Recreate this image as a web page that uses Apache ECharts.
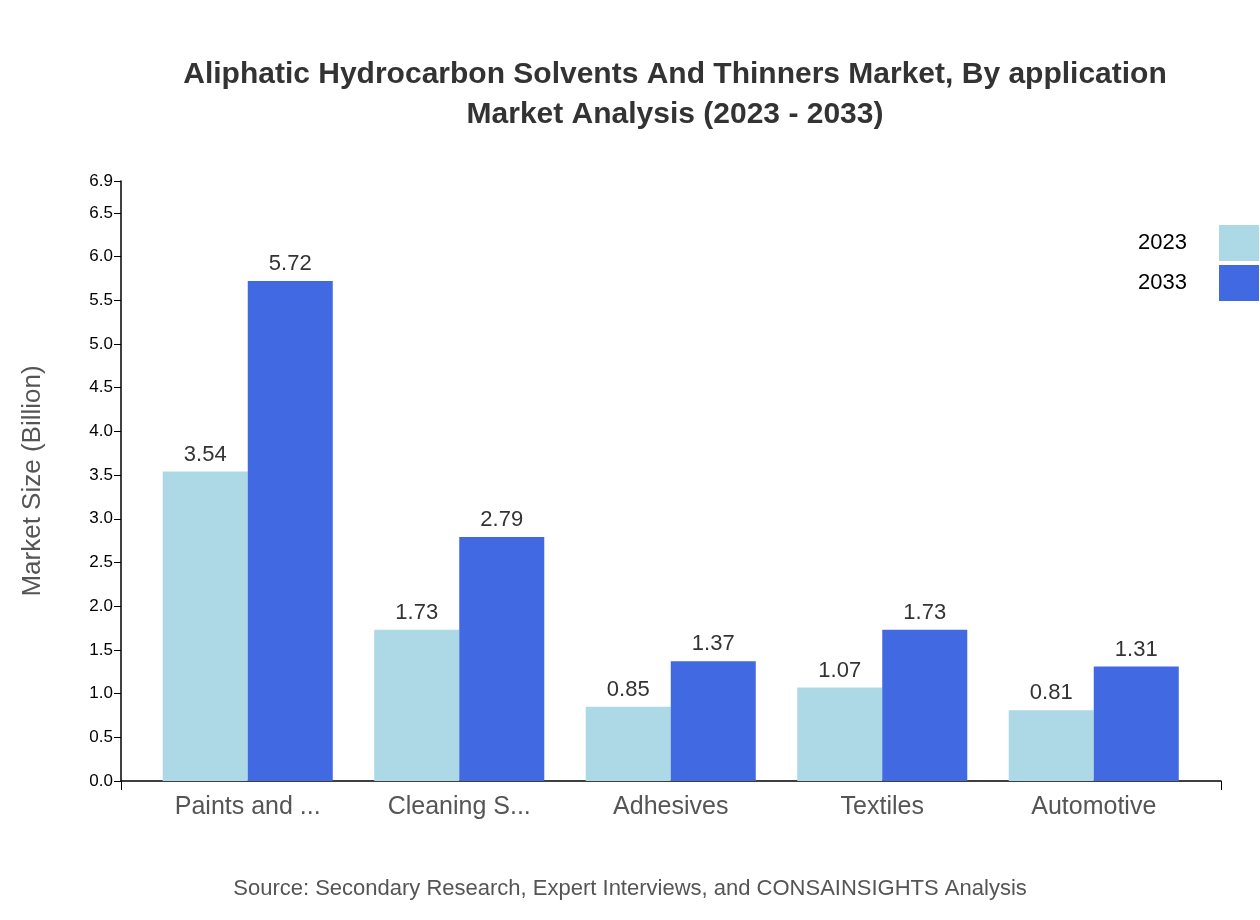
<!DOCTYPE html>
<html><head><meta charset="utf-8">
<script src="https://cdn.jsdelivr.net/npm/echarts@6/dist/echarts.min.js"></script>
<style>body{margin:0}#c{width:1260px;height:920px}</style></head>
<body><div id="c"></div>
<script>
const categories = ['Paints and ...','Cleaning S...','Adhesives','Textiles','Automotive'];
const values2023 = [3.54,1.73,0.85,1.07,0.81];
const values2033 = [5.72,2.79,1.37,1.73,1.31];
const yMax = 6.864;
const ch = echarts.init(document.getElementById('c'));
const lbl = {show:true,position:'top',fontSize:22,color:'#333',fontFamily:'Liberation Sans',distance:6};
ch.setOption({
  animation:false,
  title:{text:'Aliphatic Hydrocarbon Solvents And Thinners Market, By application\nMarket Analysis (2023 - 2033)',
    left:670,top:50,textAlign:'center',textStyle:{fontSize:30,fontWeight:'bold',color:'#333',lineHeight:40,fontFamily:'Liberation Sans'}},
  graphic:[{type:'text',left:'center',top:878,style:{text:'Source: Secondary Research, Expert Interviews, and CONSAINSIGHTS Analysis',fontSize:22,fill:'#555',fontFamily:'Liberation Sans'},x:-40}],
  legend:{data:['2023','2033'],orient:'vertical',align:'right',right:-4,top:220,itemWidth:40,itemHeight:36,itemGap:4,icon:'rect',
    textStyle:{fontSize:22,color:'#000',fontFamily:'Liberation Sans',padding:[0,27,0,0]}},
  grid:[{left:142,right:60.5,top:181,bottom:139},{left:121,right:39,top:181,bottom:139}],
  xAxis:[
    {type:'category',gridIndex:0,data:categories,axisLine:{show:false},axisTick:{show:false},
     axisLabel:{fontSize:25,color:'#555',margin:14,fontFamily:'Liberation Sans'}},
    {type:'value',gridIndex:1,min:0,max:1,interval:1,axisLine:{show:true,lineStyle:{color:'#000',width:1.5}},
     axisTick:{show:true,length:9,lineStyle:{color:'#000'}},axisLabel:{show:false},splitLine:{show:false}}
  ],
  yAxis:[
    {type:'value',gridIndex:0,min:0,max:yMax,show:false,splitLine:{show:false}},
    {type:'value',gridIndex:1,min:0,max:yMax,interval:0.5,
     name:'Market Size (Billion)',nameLocation:'middle',nameGap:75,nameTextStyle:{fontSize:26,color:'#555',fontFamily:'Liberation Sans'},
     axisLine:{show:true,lineStyle:{color:'#000',width:1.5}},axisTick:{show:true,length:7,lineStyle:{color:'#000'}},
     axisLabel:{fontSize:17,color:'#000',formatter:v=>v.toFixed(1),fontFamily:'Liberation Sans'},splitLine:{show:false}}
  ],
  series:[
    {name:'2023',type:'bar',xAxisIndex:0,yAxisIndex:0,data:values2023,itemStyle:{color:'#add8e6'},barGap:'0%',barCategoryGap:'19.6%',label:lbl},
    {name:'2033',type:'bar',xAxisIndex:0,yAxisIndex:0,data:values2033,itemStyle:{color:'#4169e1'},barGap:'0%',barCategoryGap:'19.6%',label:lbl}
  ]
});
</script></body></html>
